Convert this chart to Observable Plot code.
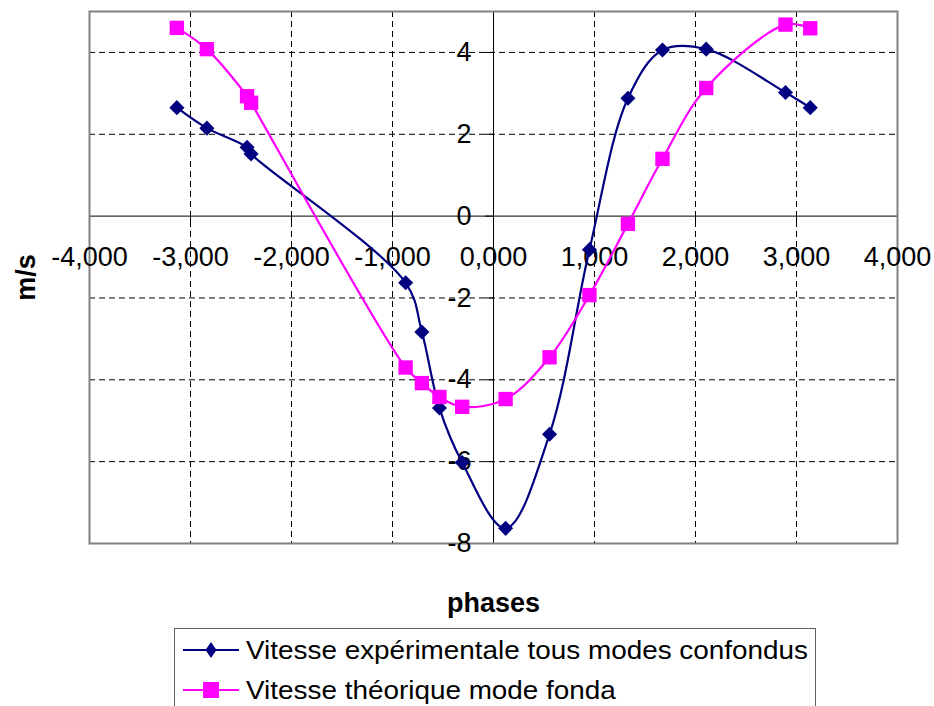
<!DOCTYPE html>
<html>
<head>
<meta charset="utf-8">
<script src="https://cdn.jsdelivr.net/npm/d3@7"></script>
<script src="https://cdn.jsdelivr.net/npm/@observablehq/plot@0.6"></script>
<style>
  html, body { margin: 0; padding: 0; background: #fff; }
  body { width: 934px; height: 706px; overflow: hidden; position: relative; font-family: "Liberation Sans", Arial, sans-serif; }
  #legend { position: absolute; left: 174px; top: 628px; width: 642px; height: 110px; border: 1px solid #606060; box-sizing: border-box; background: #fff; }
  .row { position: absolute; left: 0; height: 40px; width: 100%; }
  .row svg { position: absolute; left: 8px; top: 0; }
  .row span { position: absolute; left: 71px; top: 0; line-height: 40px; font-size: 25px; color: #000; white-space: nowrap; transform: scaleX(1.115); transform-origin: left center; }
</style>
</head>
<body>
<div id="chart"></div>
<div id="legend"></div>
<script>
// ---- data ----
const phases       = [-3.135, -2.838, -2.44, -2.40, -0.87, -0.709, -0.535, -0.31, 0.12, 0.555, 0.950, 1.331, 1.673, 2.106, 2.891, 3.136];
const vitesseExp   = [2.65, 2.15, 1.68, 1.52, -1.63, -2.83, -4.69, -6.02, -7.63, -5.33, -0.82, 2.88, 4.06, 4.08, 3.02, 2.65];
const vitesseTheo  = [4.60, 4.08, 2.93, 2.77, -3.70, -4.08, -4.42, -4.66, -4.47, -3.45, -1.93, -0.19, 1.40, 3.13, 4.68, 4.59];
const seriesNames  = ["Vitesse expérimentale tous modes confondus", "Vitesse théorique mode fonda"];
const seriesColors = ["#000080", "#ff00ff"];
const xTicks = [-4, -3, -2, -1, 0, 1, 2, 3, 4];
const yTicks = [-8, -6, -4, -2, 0, 2, 4];
const xGrid  = [-3, -2, -1, 1, 2, 3];
const yGrid  = [-6, -4, -2, 2, 4];

const exp  = phases.map((p, i) => ({x: p, y: vitesseExp[i]}));
const theo = phases.map((p, i) => ({x: p, y: vitesseTheo[i]}));
const fmtX = d => d.toFixed(3).replace(".", ",");

const chart = Plot.plot({
  width: 934,
  height: 620,
  marginTop: 11,
  marginBottom: 77,
  marginLeft: 89,
  marginRight: 37,
  style: {fontFamily: "Liberation Sans, Arial, sans-serif", background: "#fff", overflow: "visible"},
  x: {domain: [-4, 4], axis: null},
  y: {domain: [-8, 5], axis: null},
  marks: [
    Plot.ruleX(xGrid, {stroke: "#000", strokeWidth: 1, strokeDasharray: "6,4"}),
    Plot.ruleY(yGrid, {stroke: "#000", strokeWidth: 1, strokeDasharray: "6,4"}),
    Plot.ruleY([0], {stroke: "#000", strokeWidth: 1}),
    Plot.ruleX([0], {stroke: "#000", strokeWidth: 1}),
    Plot.ruleX(xTicks, {x: d => d, y1: 0, y2: 0, insetBottom: -8, stroke: "#000", strokeWidth: 1}),
    Plot.ruleY(yTicks, {y: d => d, x1: 0, x2: 0, insetLeft: -8, stroke: "#000", strokeWidth: 1}),
    Plot.frame({stroke: "#808080", strokeWidth: 2}),
    Plot.text(xTicks, {x: d => d, y: 0, text: fmtX, dy: 41, fontSize: 27, fill: "#000"}),
    Plot.text(yTicks, {x: 0, y: d => d, text: d => String(d), dx: -22, textAnchor: "end", fontSize: 27, fill: "#000"}),
    Plot.text(["phases"], {frameAnchor: "bottom", text: d => d, dy: 60, textAnchor: "middle", lineAnchor: "middle", fontSize: 27, fontWeight: "bold", fill: "#000"}),
    Plot.text(["m/s"], {frameAnchor: "left", text: d => d, dx: -63, rotate: -90, textAnchor: "middle", lineAnchor: "middle", fontSize: 27, fontWeight: "bold", fill: "#000"}),
    Plot.line(exp, {x: "x", y: "y", curve: "catmull-rom", stroke: seriesColors[0], strokeWidth: 2.2}),
    Plot.dot(exp, {x: "x", y: "y", symbol: "diamond2", r: 6.8, fill: seriesColors[0], stroke: "none"}),
    Plot.line(theo, {x: "x", y: "y", curve: "catmull-rom", stroke: seriesColors[1], strokeWidth: 2.2}),
    Plot.dot(theo, {x: "x", y: "y", symbol: "square", r: 8.1, fill: seriesColors[1], stroke: "none"})
  ]
});
document.getElementById("chart").appendChild(chart);

// legend
const legend = document.getElementById("legend");
seriesNames.forEach((name, i) => {
  const row = document.createElement("div");
  row.className = "row";
  row.style.top = (i === 0 ? 1 : 41) + "px";
  const marker = i === 0
    ? `<polygon points="28,12 33.5,20 28,28 22.5,20" fill="${seriesColors[i]}"/>`
    : `<rect x="20" y="12" width="16" height="16" fill="${seriesColors[i]}"/>`;
  row.innerHTML = `<svg width="60" height="40"><line x1="0" y1="20" x2="56" y2="20" stroke="${seriesColors[i]}" stroke-width="2.2"/>${marker}</svg><span>${name}</span>`;
  legend.appendChild(row);
});
</script>
</body>
</html>
